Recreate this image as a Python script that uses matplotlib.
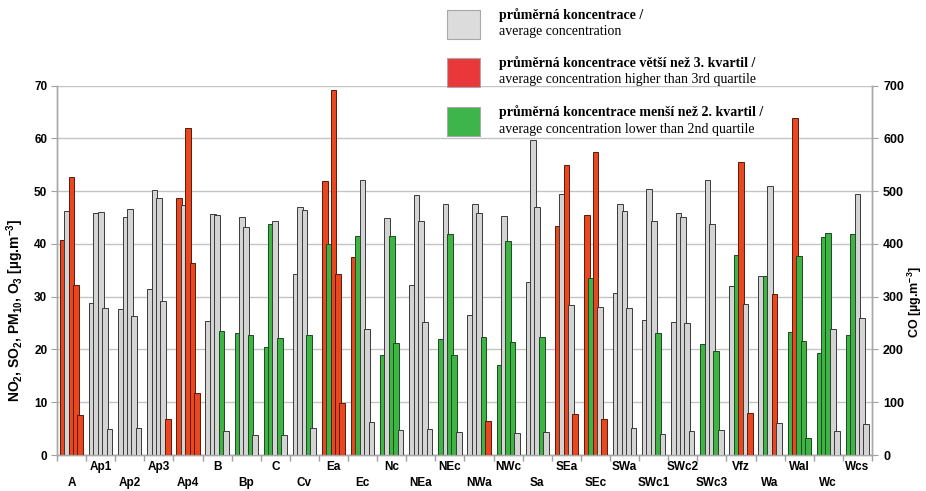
import matplotlib
matplotlib.use("Agg")
import matplotlib.pyplot as plt
from matplotlib.patches import Rectangle
import numpy as np

plt.rcParams['font.family'] = ['Liberation Sans', 'DejaVu Sans']
plt.rcParams['mathtext.fontset'] = 'custom'
plt.rcParams['mathtext.bf'] = 'Liberation Sans:bold'
plt.rcParams['mathtext.rm'] = 'Liberation Sans:bold'
plt.rcParams['mathtext.default'] = 'bf'

categories = ['A', 'Ap1', 'Ap2', 'Ap3', 'Ap4', 'B', 'Bp', 'C', 'Cv', 'Ea', 'Ec', 'Nc',
              'NEa', 'NEc', 'NWa', 'NWc', 'Sa', 'SEa', 'SEc', 'SWa', 'SWc1', 'SWc2',
              'SWc3', 'Vfz', 'Wa', 'Wal', 'Wc', 'Wcs']

no2 = [40.7, 28.9, 27.7, 31.5, 48.8, 25.4, 23.2, 20.4, 34.4, 51.9, 37.5, 19.0, 32.2, 21.9,
       26.5, 17.0, 32.8, 43.5, 45.4, 30.8, 25.5, 25.3, 21.1, 32.0, 33.9, 23.4, 19.3, 22.8]
no2_status = "rnnnrnggnrrgngngnrrnnngnnggg"

so2 = [46.3, 45.8, 45.2, 50.3, 47.4, 45.6, 45.2, 43.8, 47.1, 39.9, 41.5, 44.9, 49.2, 47.6,
       47.5, 45.3, 59.8, 49.4, 33.5, 47.5, 50.5, 45.9, 52.2, 37.9, 33.9, 63.9, 41.4, 41.8]
so2_status = "nnnnnnngnggnnnnnnngnnnnggrgg"

pm10 = [52.6, 46.0, 46.6, 48.8, 62.0, 45.5, 43.3, 44.4, 46.4, 69.2, 52.2, 41.6, 44.4, 41.9,
        45.8, 40.6, 47.0, 55.0, 57.4, 46.3, 44.4, 45.1, 43.8, 55.5, 50.9, 37.8, 42.1, 49.4]
pm10_status = "rnnnrnnnnrngngngnrrnnnnrnggn"

o3 = [32.3, 27.9, 26.4, 29.1, 36.3, 23.5, 22.8, 22.2, 22.7, 34.4, 23.8, 21.3, 25.2, 19.0,
      22.4, 21.5, 22.4, 28.5, 28.1, 27.9, 23.1, 25.1, 19.8, 28.6, 30.6, 21.7, 23.8, 25.9]
o3_status = "rnnnrggggrngnggggnnngngnrgnn"

co = [75, 49, 52, 69, 118, 45, 38, 38, 52, 98, 63, 48, 50, 44,
      65, 42, 43, 77, 69, 52, 39, 45, 47, 80, 61, 32, 45, 59]
co_status = "rnnrrnnnnrnnnnrnnrrnnnnrngnn"

left_ticks = [0, 10, 20, 30, 40, 50, 60, 70]
right_ticks = [0, 100, 200, 300, 400, 500, 600, 700]

legend_bold = ['průměrná koncentrace /',
               'průměrná koncentrace větší než 3. kvartil /',
               'průměrná koncentrace menší než 2. kvartil /']
legend_regular = ['average concentration',
                  'average concentration higher than 3rd quartile',
                  'average concentration lower than 2nd quartile']

COLORS = {'n': '#d4d4d4', 'r': '#e8471f', 'g': '#3db444'}
EDGES = {'n': '#3a3a3a', 'r': '#5a1a0a', 'g': '#1e4a1e'}
LEG_COLORS = ['#dcdcdc', '#e8383a', '#3db54a']

W, H = 926, 491
fig = plt.figure(figsize=(W / 100, H / 100), dpi=100)
ax = fig.add_axes([57 / W, 1 - 455 / H, (872 - 57) / W, (455 - 85.7) / H])
ax2 = ax.twinx()

n = len(categories)
x = np.arange(n)
bw = 0.196
step = 0.151
start = 0.10

left_series = [(no2, no2_status), (so2, so2_status), (pm10, pm10_status), (o3, o3_status)]
for j, (vals, st) in enumerate(left_series):
    ax.bar(x + start + j * step, vals, width=bw, align='edge',
           color=[COLORS[s] for s in st], edgecolor=[EDGES[s] for s in st],
           linewidth=0.7, zorder=3 + j * 0.01)
ax2.bar(x + start + 4 * step, co, width=bw, align='edge',
        color=[COLORS[s] for s in co_status], edgecolor=[EDGES[s] for s in co_status],
        linewidth=0.7, zorder=3)

ax.set_xlim(0, n)
ax.set_ylim(0, 70)
ax2.set_ylim(0, 700)
ax.set_yticks(left_ticks)
ax2.set_yticks(right_ticks)
ax.yaxis.grid(True, color='#c4c4c4', linewidth=1.0, zorder=0)
ax.set_axisbelow(True)

# x ticks: labels at centers (staggered), tick marks at boundaries
ax.set_xticks(x + 0.5)
ax.set_xticklabels([('\n' + c) if i % 2 == 0 else c for i, c in enumerate(categories)],
                   fontsize=8.5, fontweight='bold', linespacing=1.45)
ax.tick_params(axis='x', which='major', length=0, pad=4)
ax.set_xticks(np.arange(n + 1), minor=True)
ax.tick_params(axis='x', which='minor', length=4, color='#a0a0a0', width=1)

ax.tick_params(axis='y', length=4, color='#a0a0a0', labelsize=8.5, pad=3)
ax2.tick_params(axis='y', length=4, color='#a0a0a0', labelsize=9, pad=4)
for lab in ax.get_yticklabels() + ax2.get_yticklabels():
    lab.set_fontweight('bold')

for a in (ax, ax2):
    a.spines['top'].set_visible(False)
    for s in ('left', 'right', 'bottom'):
        a.spines[s].set_color('#a8a8a8')
        a.spines[s].set_linewidth(1.0)

fig.text(15 / W, 1 - 310 / H, 'NO$_2$, SO$_2$, PM$_{10}$, O$_3$ [µg.m$^{-3}$]',
         rotation=90, ha='center', va='center', fontsize=10, fontweight='bold')
fig.text(915 / W, 1 - 302 / H, 'CO [µg.m$^{-3}$]',
         rotation=90, ha='center', va='center', fontsize=9, fontweight='bold')

# legend
patch_y = [10, 58, 107]
for k in range(3):
    y0 = patch_y[k]
    fig.patches.append(Rectangle((446.7 / W, 1 - (y0 + 29) / H), 33 / W, 29 / H,
                                 transform=fig.transFigure, facecolor=LEG_COLORS[k],
                                 edgecolor='#a8a8a8', linewidth=0.8))
    fig.text(499 / W, 1 - (y0 + 5) / H, legend_bold[k], ha='left', va='center',
             fontsize=10, fontweight='bold', family='Liberation Serif')
    fig.text(499 / W, 1 - (y0 + 22) / H, legend_regular[k], ha='left', va='center',
             fontsize=10, family='Liberation Serif')

fig.savefig('out.png', dpi=100)
